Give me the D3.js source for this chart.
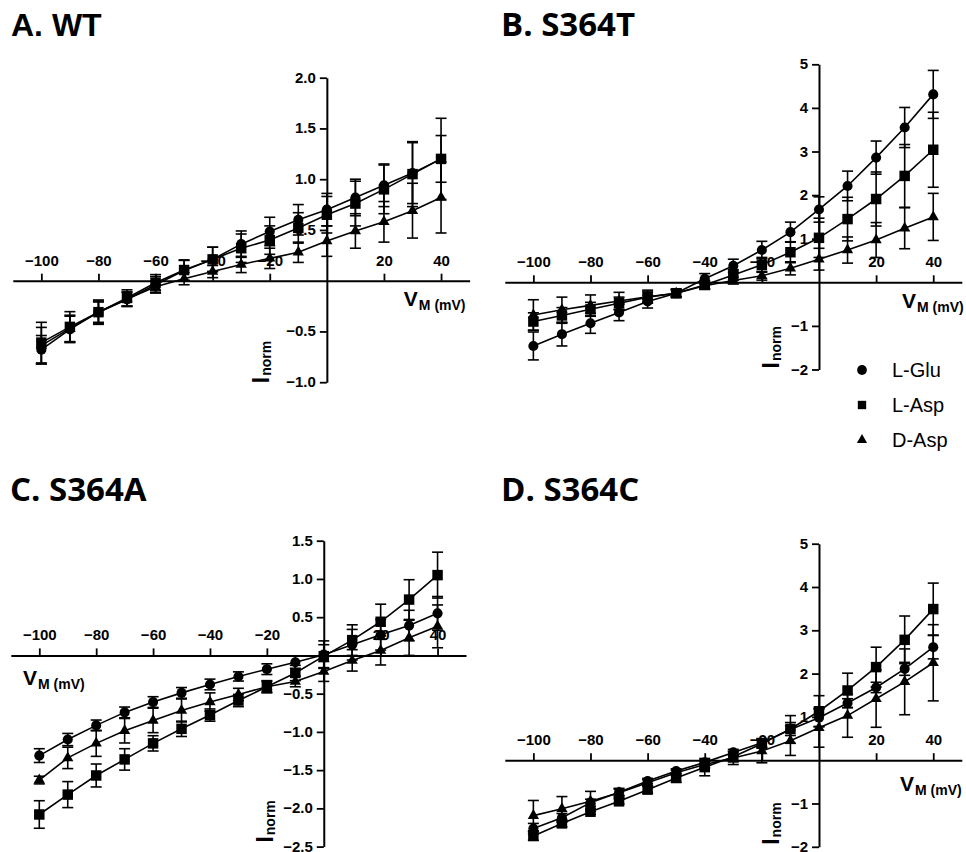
<!DOCTYPE html>
<html>
<head>
<meta charset="utf-8">
<script src="https://cdn.jsdelivr.net/npm/d3@7"></script>
<style>
  body { margin: 0; background: #fff; }
  svg { display: block; }
  .tick text { font-family: "Liberation Sans", Arial, sans-serif; font-weight: bold; font-size: 15px; }
</style>
</head>
<body>
<svg id="chart" width="966" height="852"></svg>
<script>
// membrane potential steps (mV)
const voltages = [-100, -90, -80, -70, -60, -50, -40, -30, -20, -10, 0, 10, 20, 30, 40];
const seriesNames = ["L-Glu", "L-Asp", "D-Asp"];
const xTickValues = [-100, -80, -60, -40, -20, 20, 40];

// A. WT
const wtGlu    = [-0.68, -0.48, -0.31, -0.185, -0.04, 0.10, 0.21, 0.36, 0.485, 0.60, 0.70, 0.82, 0.94, 1.06, 1.20];
const wtGluErr = [0.14, 0.13, 0.11, 0.07, 0.08, 0.10, 0.12, 0.13, 0.14, 0.15, 0.16, 0.18, 0.21, 0.30, 0.23];
const wtAsp    = [-0.61, -0.455, -0.31, -0.17, -0.02, 0.105, 0.21, 0.32, 0.40, 0.52, 0.65, 0.76, 0.90, 1.05, 1.20];
const wtAspErr = [0.20, 0.15, 0.12, 0.08, 0.08, 0.10, 0.12, 0.14, 0.14, 0.15, 0.18, 0.22, 0.24, 0.32, 0.40];
const wtDAsp    = [-0.64, -0.47, -0.31, -0.18, -0.06, 0.02, 0.09, 0.16, 0.22, 0.28, 0.39, 0.49, 0.58, 0.69, 0.82];
const wtDAspErr = [0.18, 0.13, 0.10, 0.07, 0.06, 0.06, 0.06, 0.08, 0.10, 0.10, 0.15, 0.17, 0.20, 0.27, 0.35];

// B. S364T
const tGlu    = [-1.46, -1.19, -0.94, -0.69, -0.44, -0.25, 0.08, 0.38, 0.74, 1.15, 1.67, 2.21, 2.86, 3.55, 4.31];
const tGluErr = [0.32, 0.27, 0.23, 0.19, 0.15, 0.10, 0.12, 0.15, 0.20, 0.23, 0.29, 0.34, 0.38, 0.46, 0.55];
const tAsp    = [-0.90, -0.76, -0.62, -0.48, -0.34, -0.25, -0.06, 0.17, 0.40, 0.69, 1.02, 1.45, 1.91, 2.44, 3.04];
const tAspErr = [0.20, 0.18, 0.16, 0.14, 0.12, 0.08, 0.10, 0.12, 0.17, 0.24, 0.45, 0.50, 0.62, 0.72, 0.86];
const tDAsp    = [-0.75, -0.63, -0.53, -0.43, -0.33, -0.25, -0.08, 0.04, 0.15, 0.32, 0.53, 0.74, 0.97, 1.24, 1.50];
const tDAspErr = [0.35, 0.29, 0.24, 0.20, 0.15, 0.08, 0.08, 0.08, 0.10, 0.15, 0.25, 0.30, 0.40, 0.47, 0.54];

// C. S364A
const aGlu    = [-1.31, -1.10, -0.915, -0.745, -0.61, -0.49, -0.38, -0.275, -0.18, -0.09, 0.01, 0.14, 0.27, 0.39, 0.55];
const aGluErr = [0.09, 0.08, 0.07, 0.07, 0.07, 0.07, 0.07, 0.06, 0.07, 0.08, 0.18, 0.20, 0.20, 0.20, 0.22];
const aAsp    = [-2.08, -1.82, -1.57, -1.36, -1.15, -0.96, -0.78, -0.59, -0.41, -0.23, -0.01, 0.20, 0.44, 0.73, 1.05];
const aAspErr = [0.18, 0.17, 0.15, 0.14, 0.10, 0.10, 0.08, 0.08, 0.08, 0.10, 0.15, 0.20, 0.23, 0.26, 0.30];
const aDAsp    = [-1.63, -1.34, -1.15, -0.985, -0.85, -0.72, -0.61, -0.51, -0.41, -0.34, -0.21, -0.065, 0.065, 0.23, 0.38];
const aDAspErr = [0.05, 0.14, 0.17, 0.16, 0.16, 0.15, 0.12, 0.08, 0.07, 0.07, 0.13, 0.14, 0.19, 0.23, 0.28];

// D. S364C
const cGlu    = [-1.58, -1.33, -0.98, -0.74, -0.48, -0.25, -0.05, 0.18, 0.40, 0.71, 0.98, 1.32, 1.68, 2.11, 2.61];
const cGluErr = [0.12, 0.10, 0.08, 0.07, 0.06, 0.05, 0.06, 0.07, 0.10, 0.32, 0.20, 0.10, 0.12, 0.15, 0.27];
const cAsp    = [-1.75, -1.46, -1.19, -0.95, -0.68, -0.41, -0.16, 0.08, 0.38, 0.72, 1.13, 1.61, 2.15, 2.78, 3.49];
const cAspErr = [0.10, 0.08, 0.06, 0.06, 0.08, 0.10, 0.20, 0.12, 0.10, 0.15, 0.36, 0.40, 0.46, 0.55, 0.60];
const cDAsp    = [-1.28, -1.12, -0.95, -0.75, -0.52, -0.29, -0.10, 0.05, 0.21, 0.45, 0.75, 1.03, 1.42, 1.81, 2.25];
const cDAspErr = [0.35, 0.28, 0.23, 0.10, 0.07, 0.06, 0.08, 0.15, 0.27, 0.34, 0.45, 0.50, 0.66, 0.76, 0.88];

const symbols = [d3.symbolCircle, d3.symbolSquare, d3.symbolTriangle];
const symbolSizes = [80, 110, 55];

const panels = [
  { title: "A. WT", titleFont: "Liberation Sans", titleSize: 32, tx: 11, ty: 36,
    xr: [12.8, 469.6], yd: [-1, 2], yr: [382.2, 77.7], yTicks: [-1, -0.5, 0.5, 1, 1.5, 2], yFmt: ".1f",
    vm: [77, 25], inorm: [-58, 1],
    series: [[wtGlu, wtGluErr], [wtAsp, wtAspErr], [wtDAsp, wtDAspErr]] },
  { title: "B. S364T", titleFont: "Open Sans", titleSize: 33, tx: 501, ty: 36,
    xr: [504.8, 961.8], yd: [-2, 5], yr: [369.5, 64.3], yTicks: [-2, -1, 1, 2, 3, 4, 5], yFmt: "d",
    vm: [83, 26], inorm: [-40, -1], legend: true,
    series: [[tGlu, tGluErr], [tAsp, tAspErr], [tDAsp, tDAspErr]] },
  { title: "C. S364A", titleFont: "Open Sans", titleSize: 33, tx: 10, ty: 501,
    xr: [10.85, 466], yd: [-2.5, 1.5], yr: [846.6, 540.7], yTicks: [-2.5, -2, -1.5, -1, -0.5, 0.5, 1, 1.5], yFmt: ".1f",
    vm: null, vmAbs: [23, 685], inorm: [-51, -4],
    series: [[aGlu, aGluErr], [aAsp, aAspErr], [aDAsp, aDAspErr]] },
  { title: "D. S364C", titleFont: "Open Sans", titleSize: 33, tx: 501, ty: 501,
    xr: [504.8, 961.8], yd: [-2, 5], yr: [846.8, 543.7], yTicks: [-2, -1, 1, 2, 3, 4, 5], yFmt: "d",
    vm: [81, 31], inorm: [-40, -2],
    series: [[cGlu, cGluErr], [cAsp, cAspErr], [cDAsp, cDAspErr]] }
];

const svg = d3.select("#chart");

panels.forEach(p => {
  const g = svg.append("g");
  const x = d3.scaleLinear().domain([-110, 50]).range(p.xr);
  const y = d3.scaleLinear().domain(p.yd).range(p.yr);
  const x0 = x(0), y0 = y(0);

  g.append("text")
    .attr("x", p.tx).attr("y", p.ty)
    .attr("font-family", p.titleFont).attr("font-weight", "bold")
    .attr("font-size", p.titleSize)
    .text(p.title);

  // x axis through zero, labels above
  const xa = g.append("g").attr("transform", `translate(0,${y0})`)
    .call(d3.axisTop(x).tickValues(xTickValues).tickSize(7).tickSizeOuter(0).tickPadding(8));
  // y axis through zero
  const ya = g.append("g").attr("transform", `translate(${x0},0)`)
    .call(d3.axisLeft(y).tickValues(p.yTicks).tickFormat(d3.format(p.yFmt)).tickSize(7).tickSizeOuter(0).tickPadding(4));
  [xa, ya].forEach(a => {
    a.select(".domain").attr("stroke", "#000").attr("stroke-width", 2);
    a.selectAll(".tick line").attr("stroke", "#000").attr("stroke-width", 1.8);
    a.selectAll(".tick text").attr("fill", "#000");
  });
  ya.selectAll(".tick text").attr("dy", "0.3em");

  // axis titles
  const vmPos = p.vm ? [x0 + p.vm[0], y0 + p.vm[1]] : p.vmAbs;
  const vm = g.append("text").attr("x", vmPos[0]).attr("y", vmPos[1])
    .attr("font-family", "Liberation Sans").attr("font-weight", "bold");
  vm.append("tspan").attr("font-size", 21).text("V");
  vm.append("tspan").attr("font-size", 14).attr("dy", 4).attr("dx", 1).text("M (mV)");

  const inorm = g.append("text")
    .attr("transform", `translate(${x0 + p.inorm[0]},${y(p.yd[0]) + p.inorm[1]}) rotate(-90)`)
    .attr("font-family", "Liberation Sans").attr("font-weight", "bold");
  inorm.append("tspan").attr("font-size", 23).text("I");
  inorm.append("tspan").attr("font-size", 14).attr("dy", 2).attr("dx", 1).text("norm");

  // data series
  p.series.forEach(([vals, errs], si) => {
    const pts = voltages.map((v, i) => ({ v, m: vals[i], e: errs[i] }));
    const s = g.append("g");
    const eb = s.selectAll("g.err").data(pts).join("g").attr("class", "err")
      .attr("stroke", "#000").attr("stroke-width", 1.6);
    eb.append("line")
      .attr("x1", d => x(d.v)).attr("x2", d => x(d.v))
      .attr("y1", d => y(d.m + d.e)).attr("y2", d => y(d.m - d.e));
    eb.append("line")
      .attr("x1", d => x(d.v) - 5.5).attr("x2", d => x(d.v) + 5.5)
      .attr("y1", d => y(d.m + d.e)).attr("y2", d => y(d.m + d.e));
    eb.append("line")
      .attr("x1", d => x(d.v) - 5.5).attr("x2", d => x(d.v) + 5.5)
      .attr("y1", d => y(d.m - d.e)).attr("y2", d => y(d.m - d.e));
    s.append("path").datum(pts)
      .attr("fill", "none").attr("stroke", "#000").attr("stroke-width", 1.6)
      .attr("d", d3.line().x(d => x(d.v)).y(d => y(d.m)));
    s.selectAll("path.mk").data(pts).join("path").attr("class", "mk")
      .attr("transform", d => `translate(${x(d.v)},${y(d.m)})`)
      .attr("d", d3.symbol(symbols[si], symbolSizes[si]))
      .attr("fill", "#000");
  });

  if (p.legend) {
    const lg = g.append("g").attr("transform", "translate(862,370)");
    seriesNames.forEach((name, i) => {
      lg.append("path").attr("transform", `translate(0,${i * 35})`)
        .attr("d", d3.symbol(symbols[i], [75, 70, 45][i])).attr("fill", "#000");
      lg.append("text").attr("x", 30).attr("y", i * 35 + 7)
        .attr("font-family", "Liberation Sans").attr("font-size", 20)
        .text(name);
    });
  }
});
</script>
</body>
</html>
